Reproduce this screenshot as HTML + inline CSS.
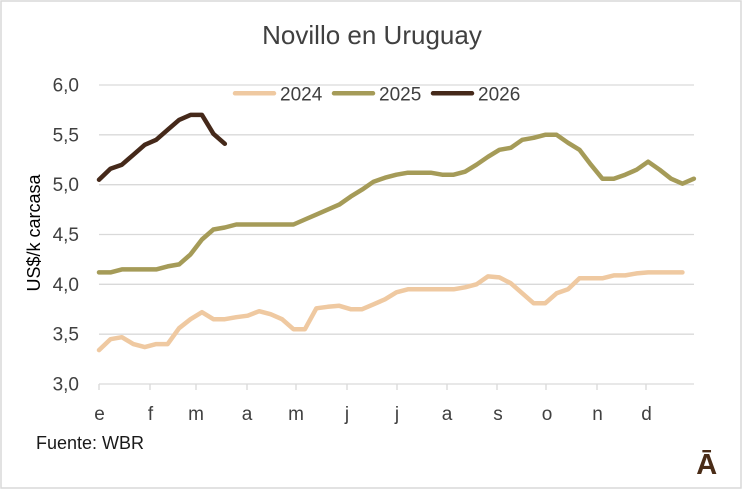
<!DOCTYPE html>
<html><head><meta charset="utf-8"><style>
html,body{margin:0;padding:0;background:#fff;}
svg{display:block;}
text{font-family:"Liberation Sans",Arial,sans-serif;}
</style></head><body>
<svg width="744" height="490" viewBox="0 0 744 490" xmlns="http://www.w3.org/2000/svg">
<rect x="0" y="0" width="744" height="490" fill="#fff"/>
<rect x="1" y="1" width="740" height="487" fill="none" stroke="#d9d9d9" stroke-width="1.5"/>
<text x="372" y="44" font-size="26" fill="#404040" text-anchor="middle">Novillo en Uruguay</text>
<g stroke="#d9d9d9" stroke-width="1.3">
<line x1="99" y1="85" x2="694" y2="85"/>
<line x1="99" y1="134.8" x2="694" y2="134.8"/>
<line x1="99" y1="184.7" x2="694" y2="184.7"/>
<line x1="99" y1="234.5" x2="694" y2="234.5"/>
<line x1="99" y1="284.3" x2="694" y2="284.3"/>
<line x1="99" y1="334.2" x2="694" y2="334.2"/>
<line x1="99" y1="384" x2="694" y2="384"/>
<line x1="99" y1="384" x2="99" y2="390"/>
<line x1="150" y1="384" x2="150" y2="390"/>
<line x1="196" y1="384" x2="196" y2="390"/>
<line x1="247" y1="384" x2="247" y2="390"/>
<line x1="296" y1="384" x2="296" y2="390"/>
<line x1="347" y1="384" x2="347" y2="390"/>
<line x1="397" y1="384" x2="397" y2="390"/>
<line x1="447" y1="384" x2="447" y2="390"/>
<line x1="497" y1="384" x2="497" y2="390"/>
<line x1="546" y1="384" x2="546" y2="390"/>
<line x1="597" y1="384" x2="597" y2="390"/>
<line x1="646" y1="384" x2="646" y2="390"/>
</g>
<g font-size="19" fill="#404040" text-anchor="end">
<text x="79" y="91.5">6,0</text>
<text x="79" y="141.3">5,5</text>
<text x="79" y="191.2">5,0</text>
<text x="79" y="241">4,5</text>
<text x="79" y="290.8">4,0</text>
<text x="79" y="340.7">3,5</text>
<text x="79" y="390.5">3,0</text>
</g>
<g font-size="19" fill="#404040" text-anchor="middle">
<text x="99.5" y="420">e</text>
<text x="150.5" y="420">f</text>
<text x="196" y="420">m</text>
<text x="247" y="420">a</text>
<text x="296" y="420">m</text>
<text x="347" y="420">j</text>
<text x="397" y="420">j</text>
<text x="447" y="420">a</text>
<text x="498" y="420">s</text>
<text x="547" y="420">o</text>
<text x="597.5" y="420">n</text>
<text x="646.5" y="420">d</text>
</g>
<text transform="translate(40,233) rotate(-90)" font-size="18" fill="#000" text-anchor="middle">US$/k carcasa</text>
<text x="36" y="449" font-size="18" fill="#1a1a1a">Fuente: WBR</text>
<g stroke-linecap="round" stroke-width="4.5">
<line x1="235" y1="93.3" x2="274" y2="93.3" stroke="#efc9a1"/>
<line x1="334" y1="93.3" x2="373" y2="93.3" stroke="#a59b58"/>
<line x1="433" y1="93.3" x2="472" y2="93.3" stroke="#45291a"/>
</g>
<g font-size="19" fill="#404040">
<text x="280" y="100.7">2024</text>
<text x="379" y="100.7">2025</text>
<text x="478" y="100.7">2026</text>
</g>
<g fill="none" stroke-width="4.5" stroke-linejoin="round" stroke-linecap="round">
<polyline stroke="#efc9a1" points="99,350.1 110.44,339.2 121.88,337.2 133.32,344.1 144.76,347.1 156.2,344.1 167.64,344.1 179.08,328.2 190.52,319.2 201.96,312.2 213.4,319.2 224.84,319.2 236.28,317.2 247.72,315.7 259.16,311.2 270.6,314.2 282.04,319.2 293.48,329.2 304.92,329.2 316.36,308.3 327.8,306.8 339.24,305.8 350.68,309.2 362.12,309.2 373.56,304.3 385,299.3 396.44,292.3 407.88,289.3 419.32,289.3 430.76,289.3 442.2,289.3 453.64,289.3 465.08,287.3 476.52,284.3 487.96,276.4 499.4,277.4 510.84,283.3 522.28,293.3 533.72,303.3 545.16,303.3 556.6,293.3 568.04,289.3 579.48,278.3 590.92,278.3 602.36,278.3 613.8,275.4 625.24,275.4 636.68,273.4 648.12,272.4 659.56,272.4 671,272.4 682.44,272.4"/>
<polyline stroke="#a59b58" points="99,272.4 110.44,272.4 121.88,269.4 133.32,269.4 144.76,269.4 156.2,269.4 167.64,266.4 179.08,264.4 190.52,254.4 201.96,239.5 213.4,229.5 224.84,227.5 236.28,224.5 247.72,224.5 259.16,224.5 270.6,224.5 282.04,224.5 293.48,224.5 304.92,219.5 316.36,214.6 327.8,209.6 339.24,204.6 350.68,196.6 362.12,189.6 373.56,181.7 385,177.7 396.44,174.7 407.88,172.7 419.32,172.7 430.76,172.7 442.2,174.7 453.64,174.7 465.08,171.7 476.52,164.7 487.96,156.8 499.4,149.8 510.84,147.8 522.28,139.8 533.72,137.8 545.16,134.8 556.6,134.8 568.04,142.8 579.48,149.8 590.92,164.7 602.36,178.7 613.8,178.7 625.24,174.7 636.68,169.7 648.12,161.7 659.56,169.7 671,178.7 682.44,183.7 693.88,178.7"/>
<polyline stroke="#45291a" points="99,179.7 110.44,168.7 121.88,164.7 133.32,154.8 144.76,144.8 156.2,139.8 167.64,129.8 179.08,119.9 190.52,114.9 201.96,114.9 213.4,133.8 224.84,143.8"/>
</g>
<text x="706.7" y="474" font-size="29" font-weight="bold" fill="#4a2c17" text-anchor="middle">Ā</text>
</svg>
</body></html>
